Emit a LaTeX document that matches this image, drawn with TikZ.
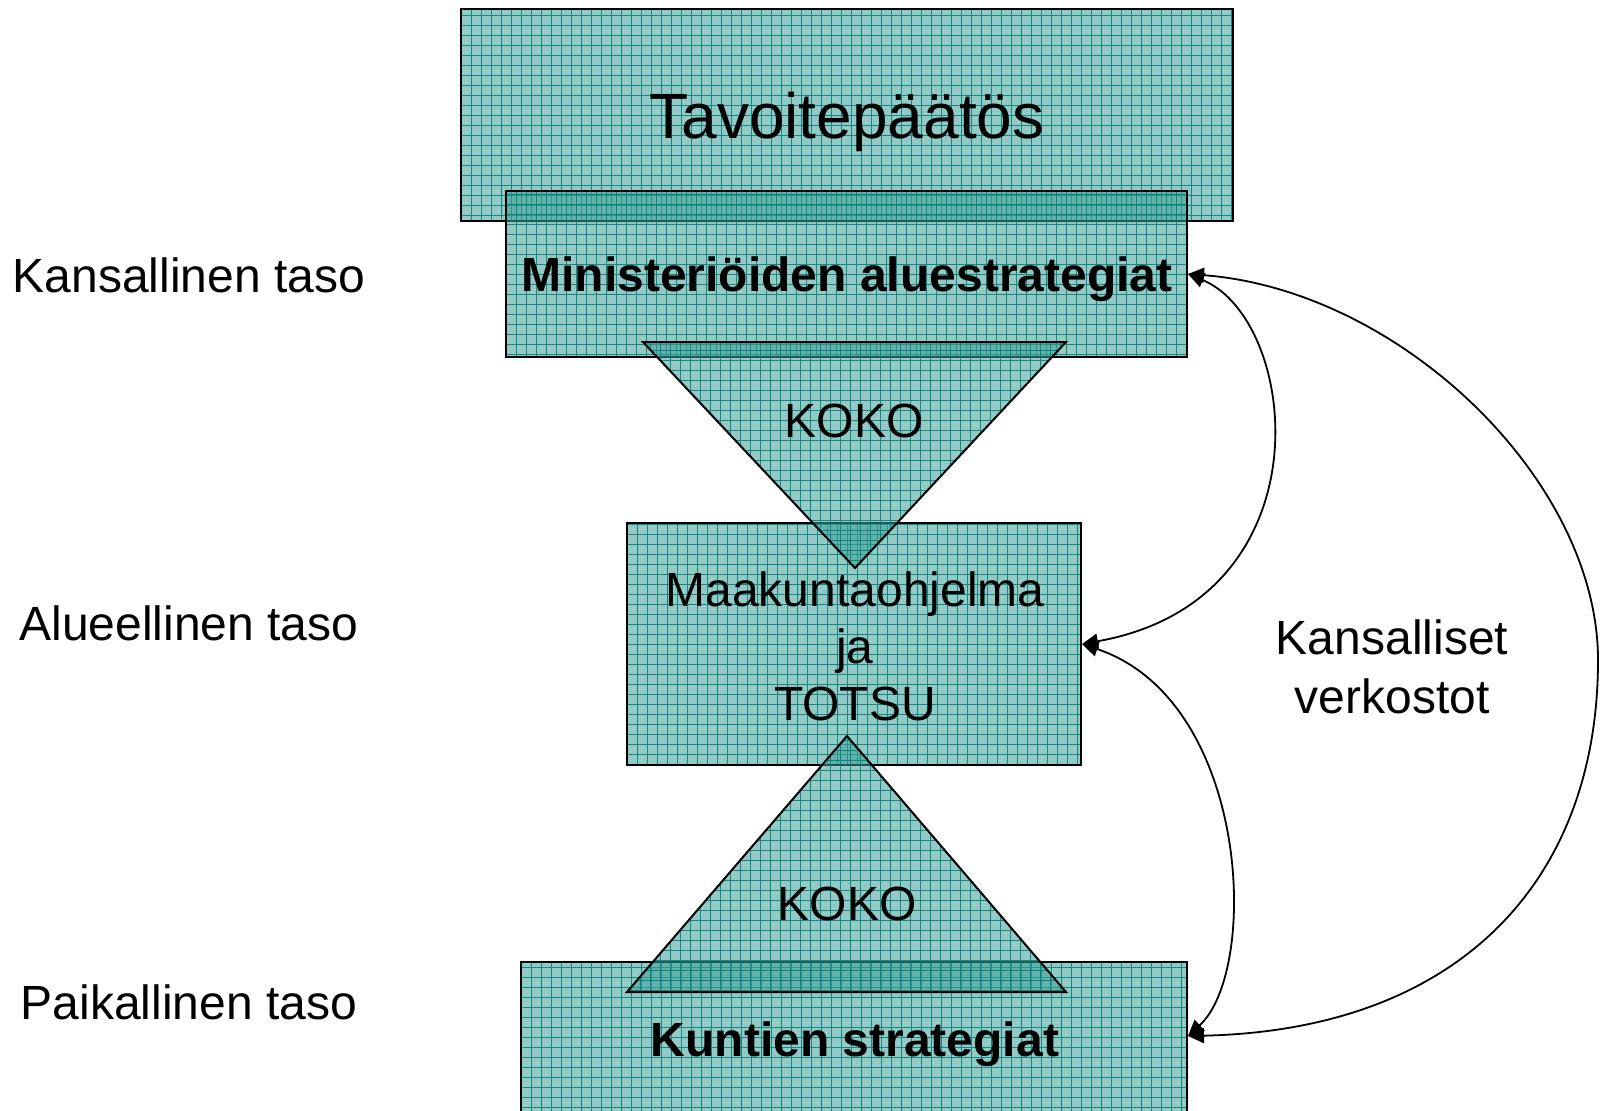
\documentclass[tikz,border=0pt]{standalone}
\usepackage{fontspec}
\setmainfont{Liberation Sans}
\usetikzlibrary{arrows.meta,fit}
\definecolor{tealfill}{RGB}{60,160,152}
\definecolor{gridc}{RGB}{0,125,120}
\tikzset{
  gridpic/.style={path picture={\draw[gridc, line width=0.5pt, opacity=0.85, step=5pt]
      (path picture bounding box.south west) grid (path picture bounding box.north east);}},
  box/.style={draw=black, line width=1pt, fill=tealfill, fill opacity=0.55, draw opacity=1, gridpic, inner sep=0pt},
  tri/.style={draw=black, line width=1pt, fill=tealfill, fill opacity=0.55, gridpic, line join=miter},
  lbl/.style={inner sep=0pt, anchor=base, font=\fontsize{24}{28.5}\selectfont, text=black},
  blbl/.style={lbl, font=\fontsize{24}{28.5}\selectfont\bfseries},
  conn/.style={draw=black, line width=0.9pt, {Triangle[length=8pt,width=7.5pt]}-{Triangle[length=8pt,width=7.5pt]}}
}
\begin{document}
\begin{tikzpicture}[x=0.5pt,y=-0.5pt]
\useasboundingbox (0,0) rectangle (1600,1110);
\clip (0,0) rectangle (1600,1110);
\fill[white] (0,0) rectangle (1600,1110);
% boxes
\node[box, fit={(461,9)(1233,221)}] (tav) {};
\node[box, fit={(506,191)(1187,357)}] (min) {};
\node[box, fit={(627,523)(1081,765)}] (maak) {};
\node[box, fit={(521,962)(1187,1112)}] (kun) {};
% triangles
\path[tri] (643,342) -- (1066,342) -- (855,568) -- cycle;
\path[tri] (847,736) -- (1066,992) -- (627,992) -- cycle;
% texts
\node[lbl, font=\fontsize{32}{38}\selectfont] (ttav) at (847,138) {Tavoitepäätös};
\node[blbl] (tmin) at (847,291) {Ministeriöiden aluestrategiat};
\node[lbl] (tkoko1) at (854,437) {KOKO};
\node[lbl] (tmaak1) at (855,606) {Maakuntaohjelma};
\node[lbl] (tmaak2) at (855,663) {ja};
\node[lbl] (tmaak3) at (855,720) {TOTSU};
\node[lbl] (tkoko2) at (847,920) {KOKO};
\node[blbl] (tkun) at (855,1056) {Kuntien strategiat};
\node[lbl] (l1) at (189,292) {Kansallinen taso};
\node[lbl] (l2) at (189,640) {Alueellinen taso};
\node[lbl] (l3) at (189,1019) {Paikallinen taso};
\node[lbl] (kv1) at (1392,654) {Kansalliset};
\node[lbl] (kv2) at (1392,713) {verkostot};
% connectors
\coordinate (minE) at (min.east |- 0,274);
\coordinate (maakE) at (maak.east |- 0,644);
\coordinate (kunE) at (kun.east |- 0,1036);
\coordinate (far) at (1598,660);
\draw[conn] (minE) .. controls (1300,320) and (1330,600) .. (maakE);
\draw[conn] (maakE) .. controls (1250,700) and (1260,970) .. (kunE);
\draw[conn] (minE) .. controls (1400,290) and (1598,480) .. (far)
  .. controls (1598,880) and (1460,1030) .. (kunE);
\end{tikzpicture}
\end{document}
